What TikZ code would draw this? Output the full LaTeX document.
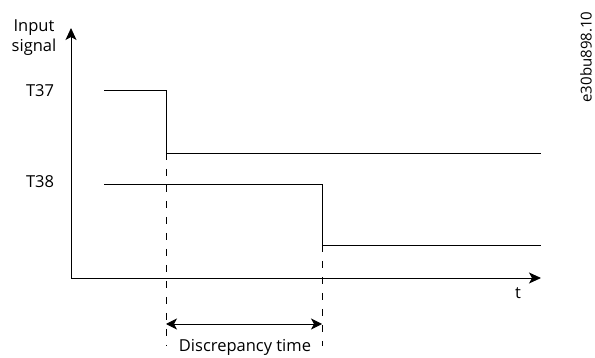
\documentclass[tikz,border=0pt]{standalone}
\usepackage{fontspec}
\setmainfont{Open Sans}
\usetikzlibrary{arrows.meta}
\begin{document}
\begin{tikzpicture}[x=1pt,y=-1pt,
  sig/.style={line width=0.9pt},
  axis/.style={line width=0.9pt,-{Stealth[length=12pt,width=11pt,inset=3pt]}},
  guide/.style={line width=0.8pt,dash pattern=on 7pt off 9pt},
  dim/.style={line width=0.9pt,{Stealth[length=11pt,width=11pt,inset=3pt]}-{Stealth[length=11pt,width=11pt,inset=3pt]}},
  lbl/.style={font=\fontsize{16.5}{20}\selectfont,inner sep=0pt,anchor=base}]
\useasboundingbox (0,0) rectangle (595,358);
% axes
\coordinate (O) at (71,278);
\coordinate (Ytop) at (71,28);
\coordinate (Xend) at (541,278);
\draw[axis] (O) -- (Ytop);
\draw[axis] (O) -- (Xend);
% T37
\coordinate (a1) at (104,90);
\coordinate (a2) at (166,90);
\coordinate (a3) at (166,153);
\coordinate (a4) at (541,153);
\draw[sig] (a1) -- (a2) -- (a3) -- (a4);
% T38
\coordinate (b1) at (104,184);
\coordinate (b2) at (322,184);
\coordinate (b3) at (322,245);
\coordinate (b4) at (541,245);
\draw[sig] (b1) -- (b2) -- (b3) -- (b4);
% guides
\coordinate (g1) at (166,346);
\coordinate (g2) at (322,346);
\draw[guide] (a3) -- (g1);
\draw[guide] (b3) -- (g2);
\coordinate (d1) at (166,324);
\coordinate (d2) at (322,324);
\draw[dim] (d1) -- (d2);
% labels
\node[lbl] (ylab1) at (34,32) {Input};
\node[lbl] (ylab2) at (34,52) {signal};
\node[lbl] (t37) at (40,97) {T37};
\node[lbl] (t38) at (40,188) {T38};
\node[lbl] (tlab) at (518,299) {t};
\node[lbl] (disc) at (245,352) {Discrepancy time};
\node[lbl,font=\fontsize{15}{18}\selectfont,anchor=center,rotate=90] (code) at (586,57) {e30bu898.10};
\end{tikzpicture}
\end{document}
